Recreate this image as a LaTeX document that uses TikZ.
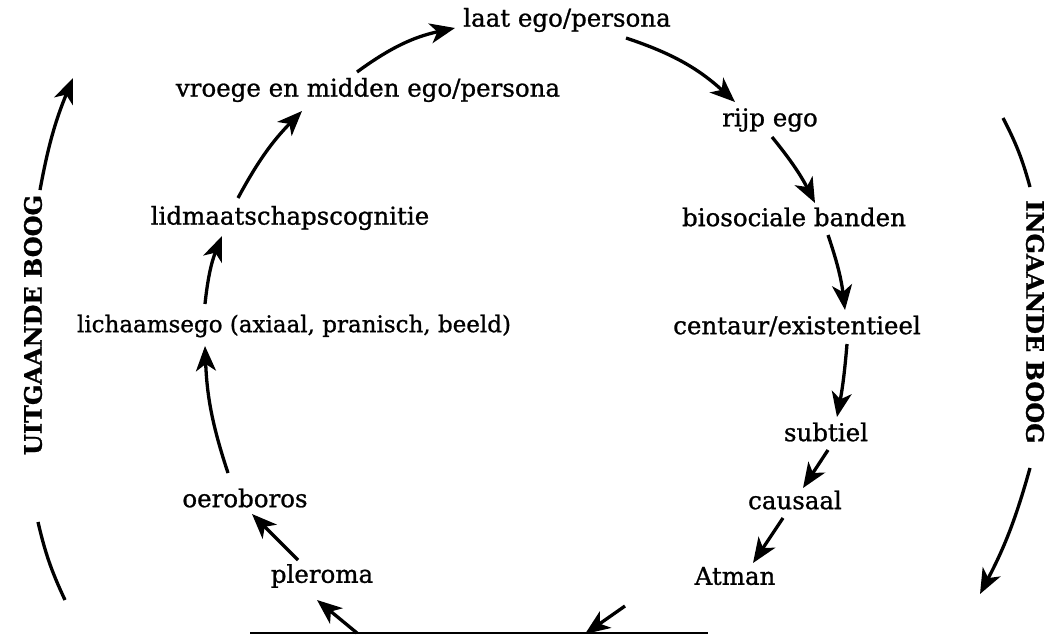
\documentclass[tikz,border=0pt]{standalone}
\usepackage{fontspec}
\setmainfont{DejaVu Serif}[FakeBold=1.0]
\usetikzlibrary{arrows.meta}
\begin{document}
\begin{tikzpicture}[x=1pt,y=-1pt,
  lbl/.style={font=\fontsize{24.5}{28}\selectfont, inner sep=0pt, anchor=center},
  side/.style={font=\fontsize{24}{28}\selectfont\bfseries, inner sep=0pt, anchor=center},
  arr/.style={line width=3.3pt, -{Stealth[length=25pt,width=20pt,inset=7pt]}},
  seg/.style={line width=3.3pt},
  base/.style={line width=2.2pt}]
\useasboundingbox (0,0) rectangle (1049,637);
\fill[white] (0,0) rectangle (1049,637);
% nodes
\node[lbl] (laat) at (567,20) {laat ego/persona};
\node[lbl] (vroege) at (368,90) {vroege en midden ego/persona};
\node[lbl] (rijp) at (770,120) {rijp ego};
\node[lbl] (lid) at (290,218) {lidmaatschapscognitie};
\node[lbl] (bio) at (794,217) {biosociale banden};
\node[lbl, font=\fontsize{23}{28}\selectfont] (lich) at (294,326) {lichaamsego (axiaal, pranisch, beeld)};
\node[lbl] (cent) at (797,326) {centaur/existentieel};
\node[lbl] (sub) at (826,432) {subtiel};
\node[lbl] (oer) at (245,498) {oeroboros};
\node[lbl] (caus) at (795,500) {causaal};
\node[lbl] (pler) at (322,576) {pleroma};
\node[lbl] (atman) at (735,576) {Atman};
\node[side, rotate=90] (uit) at (33,325) {UITGAANDE BOOG};
\node[side, rotate=-90] (ing) at (1035,322) {INGAANDE BOOG};
% base line
\coordinate (lineL) at (250,633);
\coordinate (lineR) at (708,633);
\coordinate (entry) at (585,634);
\coordinate (exit) at (357,633);
\draw[base] (lineL) -- (lineR);
% arrows
\draw[arr] ([shift={(-11,-18)}]vroege.center) to[bend left=12] ([shift={(-112,8)}]laat.center);
\draw[arr] ([shift={(59,18)}]laat.center) to[bend left=12] ([shift={(-35,-18)}]rijp.center);
\draw[arr] ([shift={(2,17)}]rijp.center) to[bend left=6] ([shift={(21,-14)}]bio.center);
\draw[arr] ([shift={(34,18)}]bio.center) to[bend left=6] ([shift={(48,-16)}]cent.center);
\draw[arr] ([shift={(50,18)}]cent.center) to[bend left=3] ([shift={(11,-15)}]sub.center);
\draw[arr] ([shift={(2,18)}]sub.center) -- ([shift={(8,-12)}]caus.center);
\draw[arr] ([shift={(-12,18)}]caus.center) -- ([shift={(18,-13)}]atman.center);
\draw[arr] ([shift={(-110,30)}]atman.center) -- (entry);
\draw[arr] (exit) -- ([shift={(-5,24)}]pler.center);
\draw[arr] ([shift={(-24,-16)}]pler.center) -- ([shift={(7,16)}]oer.center);
\draw[arr] ([shift={(-17,-25)}]oer.center) to[bend left=8] ([shift={(-89,20)}]lich.center);
\draw[arr] ([shift={(-89,-22)}]lich.center) to[bend left=8] ([shift={(-68,18)}]lid.center);
\draw[arr] ([shift={(-52,-20)}]lid.center) to[bend left=8] ([shift={(-66,21)}]vroege.center);
% side arcs
\coordinate (lu1) at (40,190);
\coordinate (lu2) at (73,78);
\coordinate (ll1) at (38,522);
\coordinate (ll2) at (65,600);
\coordinate (ru1) at (1003,118);
\coordinate (ru2) at (1030,187);
\coordinate (rl1) at (1030,468);
\coordinate (rl2) at (980,594);
\draw[arr] (lu1) to[bend left=6] (lu2);
\draw[seg] (ll1) to[bend right=6] (ll2);
\draw[seg] (ru1) to[bend left=6] (ru2);
\draw[arr] (rl1) to[bend left=6] (rl2);
\end{tikzpicture}
\end{document}
